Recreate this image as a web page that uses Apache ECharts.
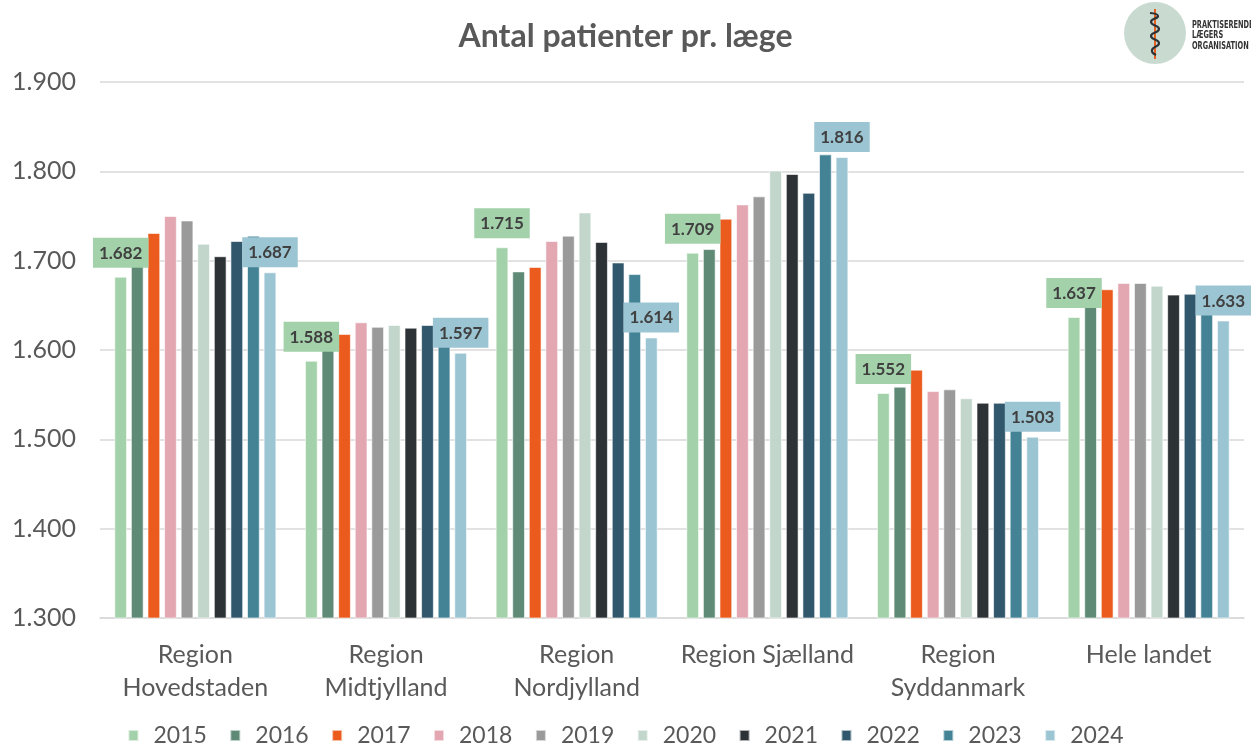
<!DOCTYPE html>
<html>
<head>
<meta charset="utf-8">
<script src="https://cdn.jsdelivr.net/npm/echarts@6/dist/echarts.min.js"></script>
<style>html,body{margin:0;padding:0;background:#fff;}#c{width:1251px;height:744px;}</style>
</head>
<body>
<div id="c"></div>
<script>
const categories = ['Region\nHovedstaden', 'Region\nMidtjylland', 'Region\nNordjylland', 'Region Sjælland', 'Region\nSyddanmark', 'Hele landet'];
const years = ['2015','2016','2017','2018','2019','2020','2021','2022','2023','2024'];
const v2015 = [1682, 1588, 1715, 1709, 1552, 1637];
const v2016 = [1697, 1602, 1688, 1713, 1559, 1652];
const v2017 = [1731, 1618, 1693, 1747, 1578, 1668];
const v2018 = [1750, 1631, 1722, 1763, 1554, 1675];
const v2019 = [1745, 1626, 1728, 1772, 1556, 1675];
const v2020 = [1719, 1628, 1754, 1801, 1546, 1672];
const v2021 = [1705, 1625, 1721, 1797, 1541, 1662];
const v2022 = [1722, 1628, 1698, 1776, 1541, 1663];
const v2023 = [1728, 1625, 1685, 1819, 1512, 1645];
const v2024 = [1687, 1597, 1614, 1816, 1503, 1633];
const yTicks = [1300, 1400, 1500, 1600, 1700, 1800, 1900];

const colors = ['#a3d1a9','#5f8a76','#ea5b1d','#e3a7b2','#9a9a9a','#c2d6cb','#2d3236','#30576c','#438395','#9cc5d4'];
const values = [v2015,v2016,v2017,v2018,v2019,v2020,v2021,v2022,v2023,v2024];
const fmt = v => { const s = String(Math.round(v)); return s.length > 3 ? s.slice(0, s.length-3) + '.' + s.slice(-3) : s; };
const FONT = 'Lato, "Open Sans", sans-serif';

const series = years.map((y, i) => {
  const s = {
    name: y, type: 'bar', data: values[i],
    itemStyle: { color: colors[i], borderColor: 'rgba(255,255,255,0.6)', borderWidth: 1 },
    barGap: '30%', barCategoryGap: '15%'
  };
  if (i === 0 || i === 9) {
    s.label = {
      show: true, position: 'top', distance: i === 0 ? 9 : 5,
      formatter: p => fmt(p.value),
      backgroundColor: colors[i], padding: [7, 6, 6, 6],
      color: '#404040', fontWeight: 'bold', fontSize: 17, fontFamily: FONT
    };
    s.z = 3;
  }
  return s;
});

const LOGOFONT = 'bold 10.5px "DejaVu Sans Condensed", "Liberation Sans Narrow", sans-serif';
const chart = echarts.init(document.getElementById('c'), null, { renderer: 'canvas' });
chart.setOption({
  animation: false,
  backgroundColor: '#fff',
  color: colors,
  title: {
    text: 'Antal patienter pr. læge', left: 'center', top: 16,
    textStyle: { color: '#595959', fontSize: 32, fontWeight: 'bold', fontFamily: FONT }
  },
  legend: {
    top: 724, left: 'center', padding: 0, itemWidth: 10, itemHeight: 11, itemGap: 22.5,
    icon: 'rect',
    textStyle: { color: '#595959', fontSize: 23, fontFamily: FONT, padding: [0, 0, 0, 10] }
  },
  grid: { left: 100, right: 7, top: 82, bottom: 126 },
  xAxis: {
    type: 'category', data: categories,
    axisTick: { show: false },
    axisLine: { lineStyle: { color: '#d9d9d9', width: 1.5 } },
    axisLabel: { color: '#595959', fontSize: 25, lineHeight: 33, margin: 20, fontFamily: FONT, interval: 0 }
  },
  yAxis: {
    type: 'value', min: yTicks[0], max: yTicks[yTicks.length-1], interval: 100,
    axisLine: { show: false }, axisTick: { show: false },
    splitLine: { lineStyle: { color: '#d9d9d9', width: 1.5 } },
    axisLabel: { color: '#595959', fontSize: 25, margin: 24, fontFamily: FONT, formatter: v => fmt(v) }
  },
  graphic: [
    { type: 'circle', shape: { cx: 1155, cy: 33, r: 31 }, style: { fill: '#c9dbd1' } },
    { type: 'line', shape: { x1: 1155, y1: 9, x2: 1155, y2: 59 }, style: { stroke: '#e8611f', lineWidth: 2 } },
    { type: 'polyline', shape: { smooth: 0.6, points: [[1150,13],[1158,16],[1151,22],[1159,29],[1151,36],[1159,43],[1152,50],[1156,55]] }, style: { stroke: '#2d3236', lineWidth: 2.2, fill: null } },
    { type: 'text', x: 1192, y: 19.5, scaleX: 0.7, style: { text: 'PRAKTISERENDE', fill: '#333', font: LOGOFONT, verticalAlign: 'top' } },
    { type: 'text', x: 1192, y: 30, scaleX: 0.7, style: { text: 'LÆGERS', fill: '#333', font: LOGOFONT, verticalAlign: 'top' } },
    { type: 'text', x: 1192, y: 40.5, scaleX: 0.7, style: { text: 'ORGANISATION', fill: '#333', font: LOGOFONT, verticalAlign: 'top' } }
  ],
  series: series
});
</script>
</body>
</html>
